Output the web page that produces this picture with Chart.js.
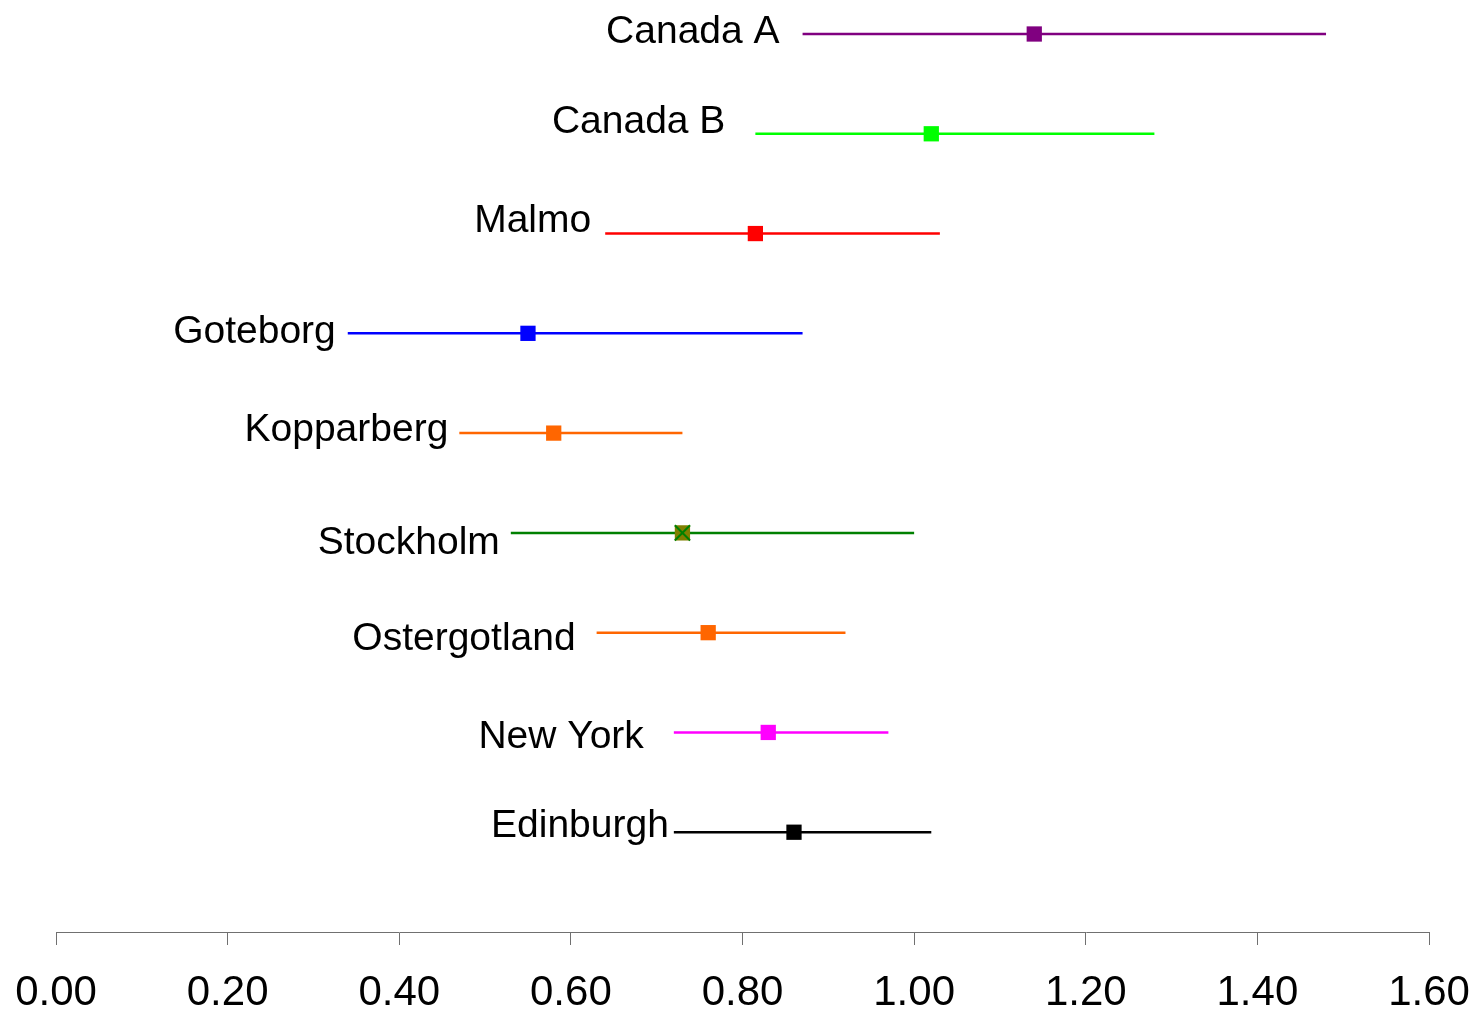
<!DOCTYPE html>
<html>
<head>
<meta charset="utf-8">
<title>Estimates with intervals</title>
<script src="https://cdn.jsdelivr.net/npm/chart.js@4/dist/chart.umd.min.js"></script>
<style>
  html, body { margin: 0; padding: 0; background: #ffffff; }
  canvas { display: block; }
</style>
</head>
<body>
<canvas id="chart" width="1477" height="1013"></canvas>
<script>
// Study sites, listed from top to bottom
const sites = ['Canada A', 'Canada B', 'Malmo', 'Goteborg', 'Kopparberg', 'Stockholm', 'Ostergotland', 'New York', 'Edinburgh'];
// Point estimates and interval bounds for each site
const estimate = [1.14, 1.02, 0.815, 0.55, 0.58, 0.73, 0.76, 0.83, 0.86];
const lower    = [0.87, 0.815, 0.64, 0.34, 0.47, 0.53, 0.63, 0.72, 0.72];
const upper    = [1.48, 1.28, 1.03, 0.87, 0.73, 1.00, 0.92, 0.97, 1.02];
// Horizontal axis ticks
const xTicks = [0.00, 0.20, 0.40, 0.60, 0.80, 1.00, 1.20, 1.40, 1.60];

// Styling per site
const lineColors   = ['#800080', '#00ff00', '#ff0000', '#0000ff', '#ff6600', '#008000', '#ff6600', '#ff00ff', '#000000'];
const markerColors = ['#800080', '#00ff00', '#ff0000', '#0000ff', '#ff6600', '#808000', '#ff6600', '#ff00ff', '#000000'];
// Label placement: gap (px) left of the interval start, baseline shift (px) from the row line
const labelGap = [23, 30, 14, 12, 11, 11, 21, 30, 5];
const labelDy  = [9, -1, -2, 10, 8, 21, 17, 16, 5];

const rowCount = sites.length;
const rowY = i => rowCount - i;   // first site at the top

const datasets = [];

// Markers (drawn on top of the interval lines)
datasets.push({
  label: 'estimates',
  data: estimate.map((v, i) => ({ x: v, y: rowY(i) })),
  pointStyle: 'rect',
  pointRadius: 10.8,
  pointBorderWidth: 0,
  pointBackgroundColor: markerColors,
  pointBorderColor: markerColors,
  showLine: false,
  order: 1
});

// Cross drawn over the Stockholm marker
const crossIdx = sites.indexOf('Stockholm');
datasets.push({
  label: 'cross',
  data: [{ x: estimate[crossIdx], y: rowY(crossIdx) }],
  pointStyle: 'crossRot',
  pointRadius: 10.8,
  pointBorderWidth: 2,
  pointBorderColor: '#008000',
  pointBackgroundColor: '#008000',
  showLine: false,
  order: 0
});

// Interval lines
sites.forEach((name, i) => {
  datasets.push({
    label: name,
    data: [{ x: lower[i], y: rowY(i) }, { x: upper[i], y: rowY(i) }],
    showLine: true,
    borderColor: lineColors[i],
    borderWidth: 2.5,
    pointRadius: 0,
    order: 2
  });
});

// Site names to the left of each interval
const siteLabels = {
  id: 'siteLabels',
  afterDatasetsDraw(chart) {
    const { ctx, scales: { x, y } } = chart;
    ctx.save();
    ctx.font = '39px "Liberation Sans", Arial, sans-serif';
    ctx.fillStyle = '#000000';
    ctx.textAlign = 'right';
    ctx.textBaseline = 'alphabetic';
    sites.forEach((name, i) => {
      const px = x.getPixelForValue(lower[i]) - labelGap[i];
      const py = y.getPixelForValue(rowY(i)) + labelDy[i];
      ctx.fillText(name, px, py);
    });
    ctx.restore();
  }
};

new Chart(document.getElementById('chart'), {
  type: 'scatter',
  data: { datasets },
  options: {
    responsive: false,
    animation: false,
    devicePixelRatio: 1,
    layout: { padding: { left: 56, right: 48, top: 34, bottom: 0 } },
    plugins: {
      legend: { display: false },
      tooltip: { enabled: false }
    },
    scales: {
      x: {
        type: 'linear',
        min: xTicks[0],
        max: xTicks[xTicks.length - 1],
        afterBuildTicks(scale) {
          scale.ticks = xTicks.map(v => ({ value: v }));
        },
        afterFit(scale) {
          scale.height = 81;
          scale.paddingLeft = 0;
          scale.paddingRight = 0;
        },
        border: { display: true, color: '#707070', width: 1 },
        grid: {
          drawOnChartArea: false,
          drawTicks: true,
          tickLength: 13,
          tickWidth: 1,
          tickColor: '#707070'
        },
        ticks: {
          autoSkip: false,
          maxRotation: 0,
          padding: 23,
          color: '#000000',
          font: { family: '"Liberation Sans", Arial, sans-serif', size: 42 },
          callback: v => Number(v).toFixed(2)
        }
      },
      y: {
        type: 'linear',
        min: 0,
        max: rowCount,
        display: false
      }
    },
    clip: false
  },
  plugins: [siteLabels]
});
</script>
</body>
</html>
